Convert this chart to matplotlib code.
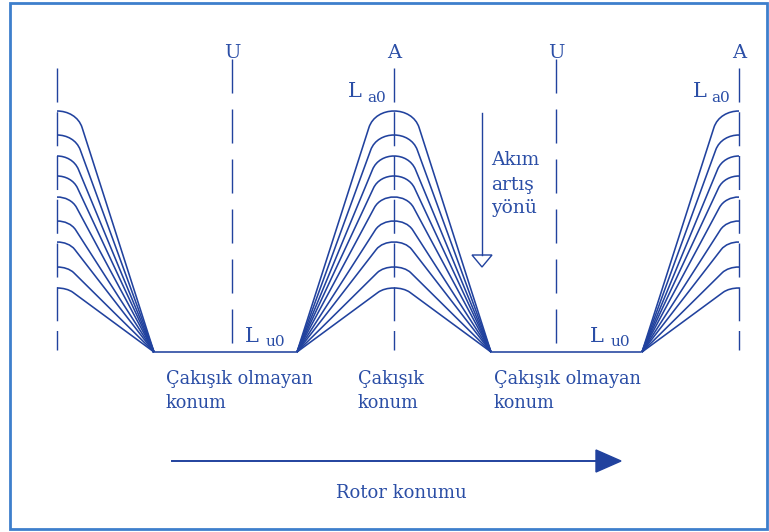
import matplotlib
matplotlib.use("Agg")
import matplotlib.pyplot as plt
from matplotlib.path import Path
from matplotlib.patches import PathPatch, Rectangle, Polygon

# --- DATA (schematic coordinates, y grows downward like the picture) ---
ALIGNED_X = [57, 394, 739]        # aligned rotor positions
UNALIGNED_X = [232, 556]          # "U" : unaligned rotor positions
PEAK_LEVELS = [111, 135, 156, 176, 197, 221, 242, 267, 288]   # one curve per current
KNEE_HALF = [18, 16, 14, 13, 12, 11, 10, 9, 8]                 # half-width of rounded top
BASE_LEVEL = 352                  # L_u0 level
RISE_HALF = 97                    # distance A -> start of flat L_u0 region
FLAT_SEGMENTS = [(153, 297), (491, 641)]

TOP_LABEL_X = [232, 394, 556, 739]
TOP_LABELS = ["U", "A", "U", "A"]
BOTTOM_LABEL_X = [166, 358, 494]
BOTTOM_LINE1 = ["Çakışık olmayan", "Çakışık", "Çakışık olmayan"]
BOTTOM_LINE2 = ["konum", "konum", "konum"]
# ------------------------------------------------------------------------

BLUE = "#21429e"
TXT = "#2b4ea6"
ROUND = 0.09
LW = 1.15
SERIF = ["DejaVu Serif"]

fig = plt.figure(figsize=(7.69, 5.32), dpi=100)
ax = fig.add_axes([0, 0, 1, 1])
ax.set_xlim(0, 769)
ax.set_ylim(532, 0)
ax.axis("off")

# frame
ax.add_patch(Rectangle((10, 3), 757, 526, fill=False, ec="#3d7fcc", lw=2.0))


def profile(c, peak, half):
    # straight rise from the base, rounded top (cubic), straight fall
    yk = (peak - 0.25 * ROUND * BASE_LEVEL) / (1 - 0.25 * ROUND)
    x0, x1 = c - RISE_HALF, c + RISE_HALF
    kl, kr = c - half, c + half
    ax_ = kl + ROUND * (x0 - kl)
    bx_ = kr + ROUND * (x1 - kr)
    ya = yk + ROUND * (BASE_LEVEL - yk)
    verts = [(x0, BASE_LEVEL), (ax_, ya), (kl, yk), (kr, yk), (bx_, ya), (x1, BASE_LEVEL)]
    codes = [Path.MOVETO, Path.LINETO, Path.CURVE4, Path.CURVE4, Path.CURVE4, Path.LINETO]
    return Path(verts, codes)


for i, c in enumerate(ALIGNED_X):
    if i == 0:
        clip = Rectangle((c, 0), 800, 600, transform=ax.transData)
    elif i == len(ALIGNED_X) - 1:
        clip = Rectangle((0, 0), c, 600, transform=ax.transData)
    else:
        clip = None
    for peak, half in zip(PEAK_LEVELS, KNEE_HALF):
        p = PathPatch(profile(c, peak, half), fill=False, ec=BLUE, lw=LW)
        ax.add_patch(p)
        if clip is not None:
            p.set_clip_path(clip)

for a, b in FLAT_SEGMENTS:
    ax.plot([a, b], [BASE_LEVEL, BASE_LEVEL], color=BLUE, lw=LW)

# dashed position markers
for x in ALIGNED_X:
    ax.plot([x, x], [68, 350], color=BLUE, lw=1.0, dashes=(24.5, 7))
for x in UNALIGNED_X:
    ax.plot([x, x], [59, 356], color=BLUE, lw=1.0, dashes=(24.5, 11.5))

for x, s in zip(TOP_LABEL_X, TOP_LABELS):
    ax.text(x, 58, s, ha="center", va="baseline", fontsize=14, color=TXT, family=SERIF)

# L_a0 / L_u0
for lx, sx, sub, yb, ys in [(355, 377, "a0", 97, 102), (700, 721, "a0", 97, 102),
                            (252, 275, "u0", 342, 346), (597, 620, "u0", 342, 346)]:
    ax.text(lx, yb, "L", ha="center", va="baseline", fontsize=15, color=TXT, family=SERIF)
    ax.text(sx, ys, sub, ha="center", va="baseline", fontsize=11, color=TXT, family=SERIF)

# bottom position names
for x, s1, s2 in zip(BOTTOM_LABEL_X, BOTTOM_LINE1, BOTTOM_LINE2):
    ax.text(x, 384, s1, ha="left", va="baseline", fontsize=12.8, color=TXT, family=SERIF)
    ax.text(x, 408, s2, ha="left", va="baseline", fontsize=12.8, color=TXT, family=SERIF)

# current increase direction
ax.plot([482, 482], [113, 255], color=BLUE, lw=1.0)
ax.add_patch(Polygon([(472, 255), (492, 255), (482, 267)], closed=True, fc="white", ec=BLUE, lw=1.0))
for y, s in zip([165, 190, 213], ["Akım", "artış", "yönü"]):
    ax.text(491, y, s, ha="left", va="baseline", fontsize=13.5, color=TXT, family=SERIF)

# rotor position arrow
ax.plot([172, 598], [461, 461], color=BLUE, lw=1.4)
ax.add_patch(Polygon([(596, 450), (596, 472), (621, 461)], closed=True, fc=BLUE, ec=BLUE))
ax.text(401, 498, "Rotor konumu", ha="center", va="baseline", fontsize=13, color=TXT, family=SERIF)

fig.savefig("out.png", dpi=100)
